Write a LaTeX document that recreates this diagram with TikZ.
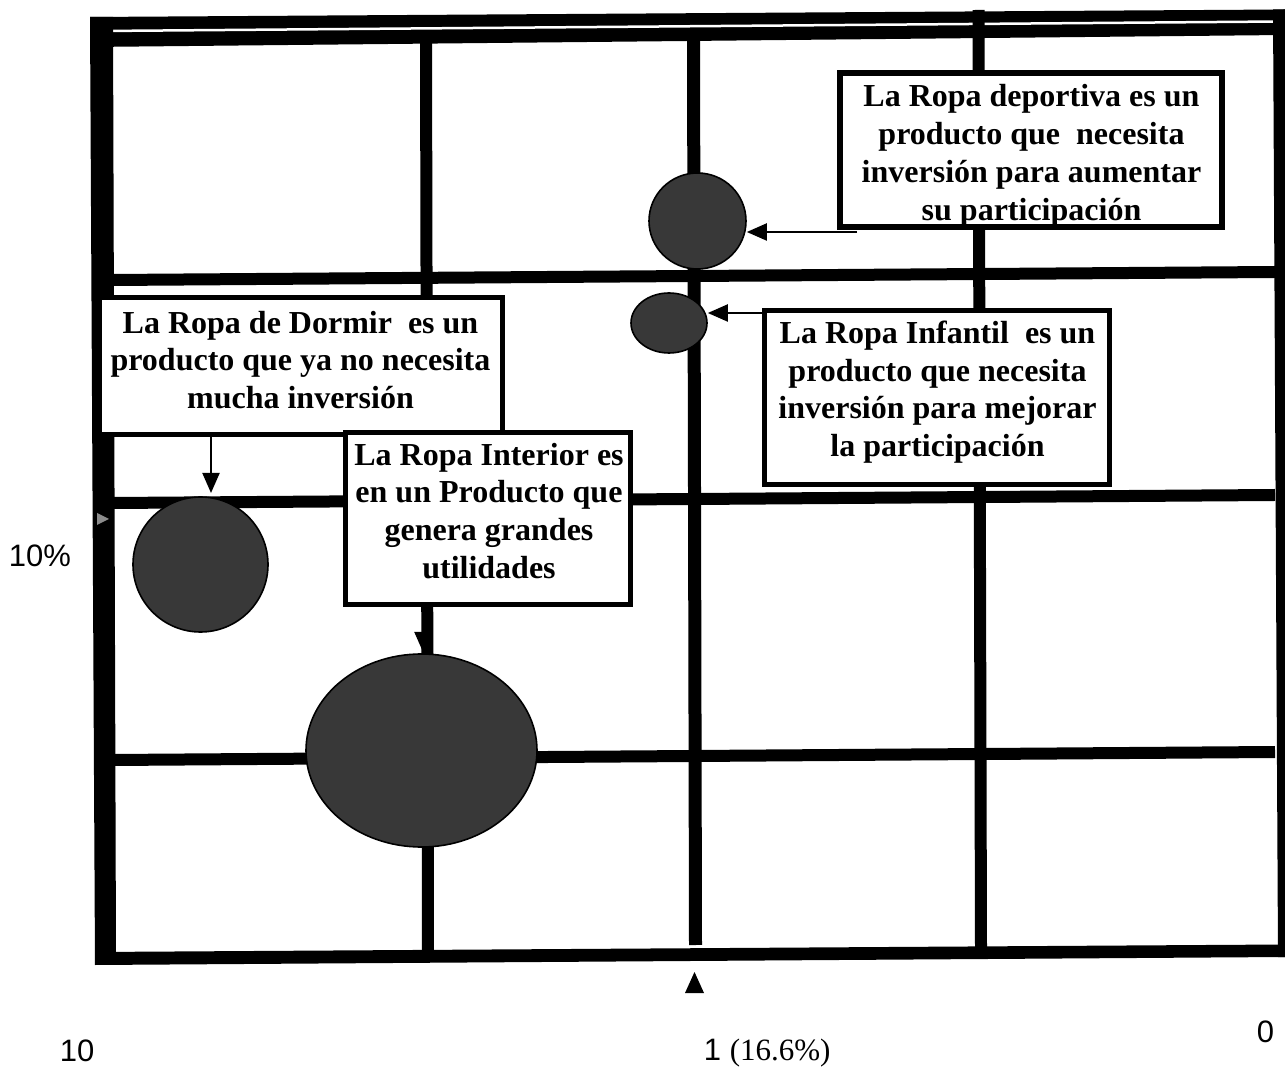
\documentclass[tikz,border=0pt]{standalone}
\usepackage{fontspec}
\setmainfont{Liberation Serif}
\newfontfamily\labelsans{Liberation Sans}
\usetikzlibrary{arrows.meta,shapes.geometric}

\begin{document}
\begin{tikzpicture}[x=0.5pt,y=-0.5pt,
  gridline/.style={line width=6pt},
  bubble/.style={ellipse,inner sep=0pt,fill=black!78,draw=black,line width=0.8pt},
  notebox/.style={rectangle,draw=black,fill=white,line width=2.75pt,inner sep=0pt},
  notetext/.style={align=center,inner sep=0pt,font=\bfseries\fontsize{16pt}{18.85pt}\selectfont},
  pointer/.style={line width=1pt,-{Triangle[length=10pt,width=8.5pt]}},
  axislabel/.style={inner sep=0pt,anchor=base west,font=\labelsans\fontsize{15.5pt}{18pt}\selectfont}]

% page
\useasboundingbox (0,0) rectangle (1285,1068);
\fill[white] (0,0) rectangle (1285,1068);

% inner grid
\draw[gridline] (426,38) -- (428,960);
\draw[gridline,line width=6.5pt] (693.5,36) -- (695.5,945);
\draw[gridline] (112,280) -- (1275,272);
\draw[gridline] (112,503) -- (1275,495);
\draw[gridline] (112,760) -- (1275,752);

% outer frame: heavy top band with a thin white rule, side and bottom bars
\fill (90,17) -- (1285,9.5) -- (1285,35) -- (90,47) -- cycle;
\draw[white,line width=1.25pt] (102,31) -- (1280,21.5);
\fill (90,17) -- (113,17) -- (116,960) -- (95,965) -- cycle;
\fill (95,952) -- (1285,944.5) -- (1285,957) -- (95,965) -- cycle;
\fill (1273,9.5) -- (1285,9.5) -- (1285,957) -- (1278,957) -- cycle;
\draw[gridline] (978.5,10) -- (981,948);

% small marks on the axes
\fill[black!45] (97,513) -- (109,519) -- (97,525) -- cycle;
\fill (685,993) -- (704,993) -- (694.5,972) -- cycle;

% product bubbles
\node[bubble,minimum width=48.5pt,minimum height=48pt] (c1) at (697.5,221) {};
\node[bubble,minimum width=38pt,minimum height=30pt] (c2) at (669,323) {};
\node[bubble,minimum width=67.5pt,minimum height=67.5pt] (c3) at (200.5,564.5) {};
\node[bubble,minimum width=115.5pt,minimum height=96.5pt] (c4) at (421.5,750.5) {};

% comment boxes
\node[notebox,minimum width=191pt,minimum height=77pt] (b1) at (1031,150) {};
\node[notetext] (t1) at (1031.5,155.8)
  {La Ropa deportiva es un\\producto que\ \ necesita\\inversión para aumentar\\su participación};

\node[notebox,minimum width=172.5pt,minimum height=87pt] (b2) at (937,397.5) {};
\node[notetext] (t2) at (937.5,392)
  {La Ropa Infantil\ \ es un\\producto que necesita\\inversión para mejorar\\la participación};

\node[notebox,minimum width=201.5pt,minimum height=68.5pt] (b3) at (301,366) {};
\node[notetext] (t3) at (300.5,360)
  {La Ropa de Dormir\ \ es un\\producto que ya no necesita\\mucha inversión};

\node[notebox,minimum width=142.5pt,minimum height=86pt] (b4) at (488,518.5) {};
\node[notetext] (t4) at (489,510.8)
  {La Ropa Interior es\\en un Producto que\\genera grandes\\utilidades};

% pointers from the boxes to the bubbles
\coordinate (a1) at (857,232);
\draw[pointer] (a1) -- (c1.east |- a1);
\coordinate (a2) at (764,313);
\draw[pointer] (a2) -- (c2.east |- a2);
\coordinate (a3) at (211,493);
\draw[pointer] (a3 |- b3.south) -- (a3);
\coordinate (a4) at (423,652);
\draw[pointer] (a4 |- b4.south) -- (a4);

% axis labels
\node[axislabel] (pct) at (8.5,567) {10\%};
\node[axislabel] (ten) at (59.5,1061) {10};
\node[axislabel] (mid) at (703.5,1060) {1 {\rmfamily(16.6\%)}};
\node[axislabel] (zero) at (1256.5,1042) {0};
\end{tikzpicture}
\end{document}
